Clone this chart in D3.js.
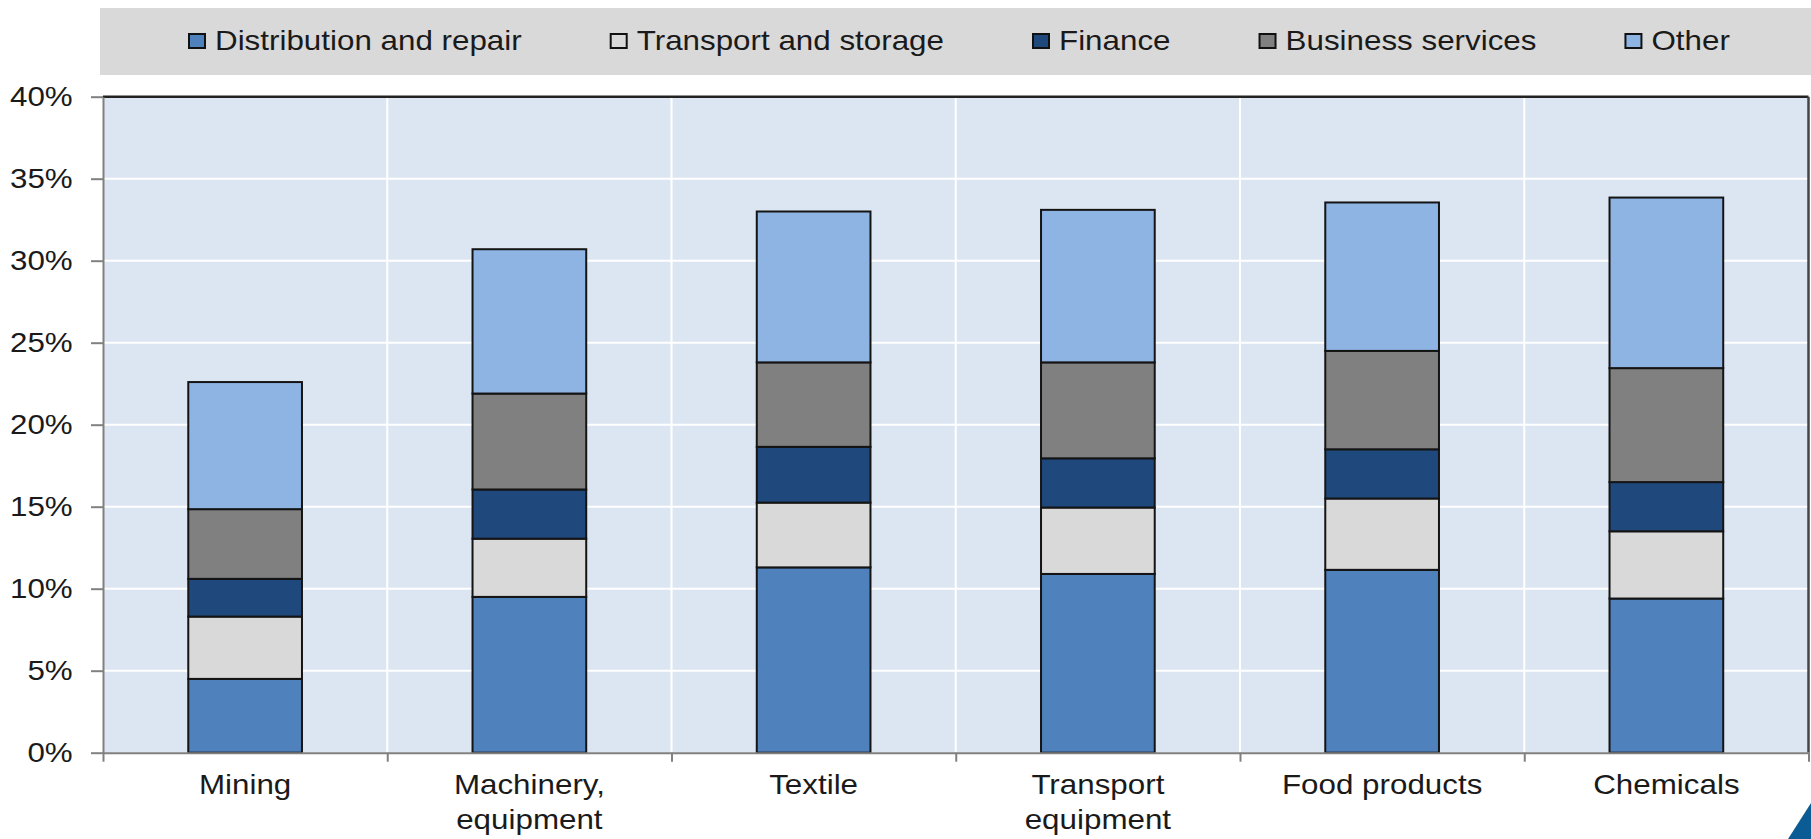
<!DOCTYPE html>
<html>
<head>
    <script src="https://d3js.org/d3.v7.min.js"></script>
    <style>
        body {
            margin: 0;
            background: #fff;
        }

        svg {
            display: block;
        }

        text {
            font-family: 'Liberation Sans', Arial, sans-serif;
            font-size: 28px;
            fill: #1a1a1a;
        }
    </style>
</head>

<body>
    <script>
        // categories on the x axis ("\n" = line break in the label)
        const categories = ['Mining', 'Machinery,\nequipment', 'Textile', 'Transport\nequipment', 'Food products', 'Chemicals'];
        const seriesNames = ['Distribution and repair', 'Transport and storage', 'Finance', 'Business services', 'Other'];

        // share in %
        const distribution = [4.5, 9.5, 11.3, 10.9, 11.15, 9.4];
        const transport = [3.8, 3.55, 3.95, 4.05, 4.35, 4.1];
        const finance = [2.3, 3.0, 3.4, 3.0, 3.0, 3.0];
        const business = [4.25, 5.85, 5.15, 5.85, 6.0, 6.95];
        const other = [7.75, 8.8, 9.2, 9.3, 9.05, 10.4];

        const yTicks = [0, 5, 10, 15, 20, 25, 30, 35, 40];
        const colors = ['#4f81bd', '#d9d9d9', '#1f497d', '#808080', '#8eb4e3'];

        const width = 1811,
            height = 839,
            margin = {top: 96.7, right: 2.5, bottom: 86.3, left: 103};

        // text in the source is a bit wider than Arial
        const stretch = 1.12;

        const series = [distribution, transport, finance, business, other];
        const rows = categories.map((c, i) => {
            const row = {category: c};
            seriesNames.forEach((s, j) => row[s] = series[j][i]);
            return row;
        });

        const stacked = d3.stack().keys(seriesNames)(rows);

        const x = d3.scaleBand()
            .domain(categories)
            .range([margin.left, width - margin.right])
            .paddingInner(0.6)
            .paddingOuter(0.3);

        // category boundaries (ticks + vertical gridlines)
        const xEdges = d3.scaleLinear()
            .domain([0, categories.length])
            .range([margin.left, width - margin.right]);

        const y = d3.scaleLinear()
            .domain([0, 40])
            .range([height - margin.bottom, margin.top]);

        const color = d3.scaleOrdinal().domain(seriesNames).range(colors);

        const svg = d3.select('body').append('svg')
            .attr('width', width)
            .attr('height', height);

        // plot background
        svg.append('rect')
            .attr('x', margin.left)
            .attr('y', margin.top)
            .attr('width', width - margin.right - margin.left)
            .attr('height', y(0) - margin.top)
            .attr('fill', '#dce6f2');

        // gridlines
        svg.append('g')
            .selectAll('line')
            .data(yTicks.slice(1, -1))
            .join('line')
            .attr('x1', margin.left)
            .attr('x2', width - margin.right)
            .attr('y1', d => y(d))
            .attr('y2', d => y(d))
            .attr('stroke', '#fff')
            .attr('stroke-width', 2);

        svg.append('g')
            .selectAll('line')
            .data(d3.range(1, categories.length))
            .join('line')
            .attr('x1', d => xEdges(d))
            .attr('x2', d => xEdges(d))
            .attr('y1', margin.top)
            .attr('y2', y(0))
            .attr('stroke', '#fff')
            .attr('stroke-width', 2);

        // stacked bars
        svg.append('g')
            .selectAll('g')
            .data(stacked)
            .join('g')
            .attr('fill', d => color(d.key))
            .selectAll('rect')
            .data(d => d)
            .join('rect')
            .attr('x', d => x(d.data.category))
            .attr('width', x.bandwidth())
            .attr('y', d => y(d[1]))
            .attr('height', d => y(d[0]) - y(d[1]))
            .attr('stroke', '#141414')
            .attr('stroke-width', 2);

        // frame: top and right
        svg.append('line')
            .attr('x1', margin.left).attr('x2', width - margin.right)
            .attr('y1', margin.top).attr('y2', margin.top)
            .attr('stroke', '#222').attr('stroke-width', 2.5);
        svg.append('line')
            .attr('x1', width - margin.right).attr('x2', width - margin.right)
            .attr('y1', margin.top).attr('y2', y(0))
            .attr('stroke', '#444').attr('stroke-width', 2.5);

        // y axis
        const yAxis = svg.append('g')
            .attr('transform', `translate(${margin.left},0)`)
            .attr('color', '#808080')
            .call(d3.axisLeft(y)
                .tickValues(yTicks)
                .tickSize(12)
                .tickSizeOuter(0)
                .tickFormat(d => d + '%'));

        yAxis.select('.domain').attr('stroke-width', 2);
        yAxis.selectAll('.tick line').attr('stroke-width', 2);
        yAxis.selectAll('.tick text')
            .attr('x', null)
            .attr('dy', null)
            .attr('text-anchor', 'end')
            .attr('transform', `translate(-30.3,9) scale(${stretch},1)`);

        // x axis: ticks at category edges
        const xAxis = svg.append('g')
            .attr('transform', `translate(0,${y(0)})`)
            .attr('color', '#808080')
            .call(d3.axisBottom(xEdges)
                .tickValues(d3.range(0, categories.length + 1))
                .tickSize(9)
                .tickSizeOuter(0)
                .tickFormat(''));

        xAxis.select('.domain').attr('stroke-width', 2);
        xAxis.selectAll('.tick line').attr('stroke-width', 2);

        // category labels
        svg.append('g')
            .selectAll('text')
            .data(categories)
            .join('text')
            .attr('text-anchor', 'middle')
            .attr('transform', d => `translate(${x(d) + x.bandwidth() / 2},${y(0) + 41.5}) scale(${stretch},1)`)
            .selectAll('tspan')
            .data(d => d.split('\n'))
            .join('tspan')
            .attr('x', 0)
            .attr('y', (_, i) => i * 35)
            .text(d => d);

        // legend
        svg.append('rect')
            .attr('x', 100)
            .attr('y', 8)
            .attr('width', width - 100)
            .attr('height', 67)
            .attr('fill', '#d9d9d9');

        const legend = svg.append('g');
        let lx = 189;
        seriesNames.forEach(name => {
            legend.append('rect')
                .attr('x', lx)
                .attr('y', 34)
                .attr('width', 16)
                .attr('height', 14)
                .attr('fill', color(name))
                .attr('stroke', '#111')
                .attr('stroke-width', 2);

            const t = legend.append('text')
                .attr('transform', `translate(${lx + 26},50) scale(${stretch},1)`)
                .text(name);

            lx += 26 + t.node().getComputedTextLength() * stretch + 89;
        });

        // corner decoration
        const corner = d3.path();
        corner.moveTo(1788, height);
        corner.lineTo(width, 803);
        corner.lineTo(width, height);
        corner.closePath();
        svg.append('path')
            .attr('d', corner.toString())
            .attr('fill', '#0b5c95');
    </script>
</body>

</html>
